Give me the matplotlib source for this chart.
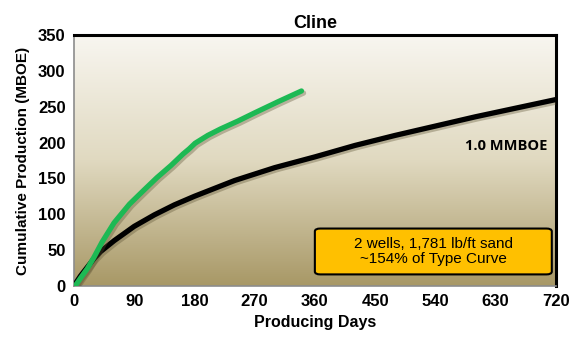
import numpy as np
import matplotlib.pyplot as plt
from matplotlib.patches import FancyBboxPatch
import matplotlib.patheffects as pe

plt.rcParams['font.family'] = ['Liberation Sans', 'DejaVu Sans']

# type curve (1.0 MMBOE EUR)
type_days = [0, 10, 20, 30, 40, 60, 90, 120, 150, 180, 210, 240, 270, 300,
             360, 420, 480, 540, 600, 660, 720]
type_mboe = [0, 14, 26, 38, 48, 63, 83, 99, 113, 125, 136, 147, 156, 165,
             180, 196, 210, 223, 236, 248, 260]

# actual average of the 2 wells
well_days = [2, 10, 20, 30, 42, 60, 83, 105, 124, 145, 163, 172, 181, 200, 219, 245, 269, 305, 340]
well_mboe = [0, 11, 24, 40, 61, 88, 114, 134, 151, 168, 184, 191, 199, 210, 219, 230, 241, 257, 272]

x_ticks = [0, 90, 180, 270, 360, 450, 540, 630, 720]
y_ticks = [0, 50, 100, 150, 200, 250, 300, 350]

fig = plt.figure(figsize=(5.73, 3.44), dpi=100)
ax = fig.add_axes([0.129, 0.169, 0.841, 0.729])

# vertical beige gradient behind the plot, light at the top
grad = np.linspace(0, 1, 256)[:, None, None]
top = np.array([248, 246, 240]) / 255
mid = np.array([224, 217, 192]) / 255
bot = np.array([168, 152, 102]) / 255
cols = np.where(grad < 0.5,
                top + (mid - top) * (grad / 0.5),
                mid + (bot - mid) * ((grad - 0.5) / 0.5))
ax.imshow(np.repeat(cols, 2, axis=1), extent=[0, 720, 0, 350], aspect='auto',
          origin='upper', zorder=0)
ax.set_xlim(0, 720)
ax.set_ylim(0, 350)

shadow = [pe.SimpleLineShadow(offset=(1.5, -1.5), shadow_color='#5a5030', alpha=0.35), pe.Normal()]
ax.plot(type_days, type_mboe, color='black', lw=3.8, solid_capstyle='round',
        path_effects=shadow, zorder=3)
ax.plot(well_days, well_mboe, color='#1db954', lw=3.8, solid_capstyle='round',
        path_effects=shadow, zorder=4)

ax.text(707, 195, '1.0 MMBOE', ha='right', va='center', fontsize=10.5,
        fontweight='bold', family=['Open Sans', 'DejaVu Sans'], zorder=5)

box = FancyBboxPatch((360, 16), 354, 64, boxstyle='round,pad=0,rounding_size=8',
                     mutation_aspect=0.5, fc='#ffc000', ec='black', lw=1.5, zorder=5)
ax.add_patch(box)
ax.text(537, 48, '2 wells, 1,781 lb/ft sand\n~154% of Type Curve', ha='center', va='center',
        fontsize=11, linespacing=1.15, zorder=6)

ax.set_xticks(x_ticks)
ax.set_yticks(y_ticks)
ax.tick_params(length=0, labelsize=12, pad=6)
for lab in ax.get_xticklabels() + ax.get_yticklabels():
    lab.set_fontweight('bold')

for side in ['top', 'right']:
    ax.spines[side].set_color('black')
    ax.spines[side].set_linewidth(2.2)
for side in ['left', 'bottom']:
    ax.spines[side].set_color('#8c8c8c')
    ax.spines[side].set_linewidth(1.2)

ax.set_title('Cline', fontsize=13, fontweight='bold', pad=5)
ax.set_xlabel('Producing Days', fontsize=11.5, fontweight='bold', labelpad=4)
ax.set_ylabel('Cumulative Production (MBOE)', fontsize=11, fontweight='bold', labelpad=6)

fig.savefig('out.png', dpi=100)
